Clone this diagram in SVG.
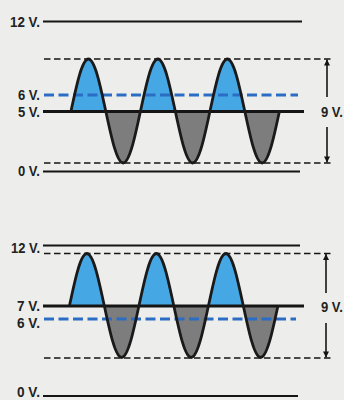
<svg xmlns="http://www.w3.org/2000/svg" xmlns:xlink="http://www.w3.org/1999/xlink" width="344" height="400" viewBox="0 0 344 400">
<style>
  .lbl { font-family: "Liberation Sans", Arial, sans-serif; font-weight: bold; font-size: 14.5px; fill: #222; }
  .solid { stroke: #151515; stroke-width: 2; fill: none; }
  .mid { stroke: #151515; stroke-width: 3; fill: none; }
  .dash { stroke: #151515; stroke-width: 1.6; stroke-dasharray: 6.5 3.5; fill: none; }
  .bdash { stroke: #2b6cc4; stroke-width: 3.2; stroke-dasharray: 10 4.5; fill: none; }
  .blue { fill: #45a8e4; }
  .grey { fill: #7d7d7d; }
  .wave { stroke: #1a1a1a; stroke-width: 2.8; fill: none; stroke-linejoin: round; }
  .arr { stroke: #151515; stroke-width: 1.6; fill: none; marker-end: url(#ah); }
</style>
<defs>
  <marker id="ah" viewBox="0 0 10 10" refX="10" refY="5" markerWidth="8" markerHeight="6" markerUnits="userSpaceOnUse" orient="auto">
    <path d="M0,0 L10,5 L0,10 z" fill="#151515"/>
  </marker>
  <path id="wv" d="M0,0 C5.66,-26.6 11.09,-52 17.38,-52 C23.66,-52 29.09,-26.6 34.75,0 C40.41,26.6 45.84,52 52.13,52 C58.41,52 63.84,26.6 69.5,0 C75.16,-26.6 80.59,-52 86.88,-52 C93.16,-52 98.59,-26.6 104.25,0 C109.91,26.6 115.34,52 121.63,52 C127.91,52 133.34,26.6 139,0 C144.66,-26.6 150.09,-52 156.38,-52 C162.66,-52 168.09,-26.6 173.75,0 C179.41,26.6 184.84,52 191.13,52 C197.41,52 202.84,26.6 208.5,0"/>
  <path id="bl" d="M0,0 C5.66,-26.6 11.09,-52 17.38,-52 C23.66,-52 29.09,-26.6 34.75,0 Z M69.5,0 C75.16,-26.6 80.59,-52 86.88,-52 C93.16,-52 98.59,-26.6 104.25,0 Z M139,0 C144.66,-26.6 150.09,-52 156.38,-52 C162.66,-52 168.09,-26.6 173.75,0 Z"/>
  <path id="gr" d="M34.75,0 C40.41,26.6 45.84,52 52.13,52 C58.41,52 63.84,26.6 69.5,0 Z M104.25,0 C109.91,26.6 115.34,52 121.63,52 C127.91,52 133.34,26.6 139,0 Z M173.75,0 C179.41,26.6 184.84,52 191.13,52 C197.41,52 202.84,26.6 208.5,0 Z"/>
</defs>
<rect x="0" y="0" width="344" height="400" fill="#edeeeb"/>

<g id="panel-top">
  <line class="solid" x1="43" y1="21.5" x2="302" y2="21.5"/>
  <line class="solid" x1="43" y1="171.5" x2="300" y2="171.5"/>
  <line class="dash" x1="44" y1="59" x2="331" y2="59"/>
  <line class="dash" x1="44" y1="163" x2="331" y2="163"/>
  <use xlink:href="#bl" class="blue" transform="translate(71,111)"/>
  <use xlink:href="#gr" class="grey" transform="translate(71,111)"/>
  <line class="mid" x1="43" y1="111.5" x2="304" y2="111.5"/>
  <line class="bdash" x1="44" y1="95" x2="298" y2="95"/>
  <use xlink:href="#wv" class="wave" transform="translate(71,111)"/>
  <g id="dim-top">
    <line class="arr" x1="327" y1="97" x2="327" y2="59.5"/>
    <line class="arr" x1="327" y1="127" x2="327" y2="162.5"/>
  </g>
  <text class="lbl" x="10" y="26.5" textLength="30" lengthAdjust="spacingAndGlyphs">12 V.</text>
  <text class="lbl" x="18" y="99.5" textLength="22" lengthAdjust="spacingAndGlyphs">6 V.</text>
  <text class="lbl" x="18" y="116.5" textLength="22" lengthAdjust="spacingAndGlyphs">5 V.</text>
  <text class="lbl" x="18" y="175.5" textLength="22" lengthAdjust="spacingAndGlyphs">0 V.</text>
  <text class="lbl" x="321" y="116.5" textLength="22" lengthAdjust="spacingAndGlyphs">9 V.</text>
</g>

<g id="panel-bottom">
  <line class="solid" x1="43" y1="245.5" x2="300" y2="245.5"/>
  <line class="solid" x1="43" y1="396" x2="298" y2="396"/>
  <line class="dash" x1="44" y1="253.5" x2="331" y2="253.5"/>
  <line class="dash" x1="44" y1="358" x2="331" y2="358"/>
  <use xlink:href="#bl" class="blue" transform="translate(69.5,305.5)"/>
  <use xlink:href="#gr" class="grey" transform="translate(69.5,305.5)"/>
  <line class="mid" x1="43" y1="306" x2="304" y2="306"/>
  <line class="bdash" x1="44" y1="319" x2="296" y2="319"/>
  <use xlink:href="#wv" class="wave" transform="translate(69.5,305.5)"/>
  <g id="dim-bottom">
    <line class="arr" x1="326" y1="293" x2="326" y2="254"/>
    <line class="arr" x1="326" y1="323" x2="326" y2="357.5"/>
  </g>
  <text class="lbl" x="11" y="253" textLength="29" lengthAdjust="spacingAndGlyphs">12 V.</text>
  <text class="lbl" x="17" y="310.5" textLength="23" lengthAdjust="spacingAndGlyphs">7 V.</text>
  <text class="lbl" x="17" y="327.5" textLength="23" lengthAdjust="spacingAndGlyphs">6 V.</text>
  <text class="lbl" x="17" y="396.5" textLength="23" lengthAdjust="spacingAndGlyphs">0 V.</text>
  <text class="lbl" x="321" y="311.5" textLength="22" lengthAdjust="spacingAndGlyphs">9 V.</text>
</g>
</svg>
